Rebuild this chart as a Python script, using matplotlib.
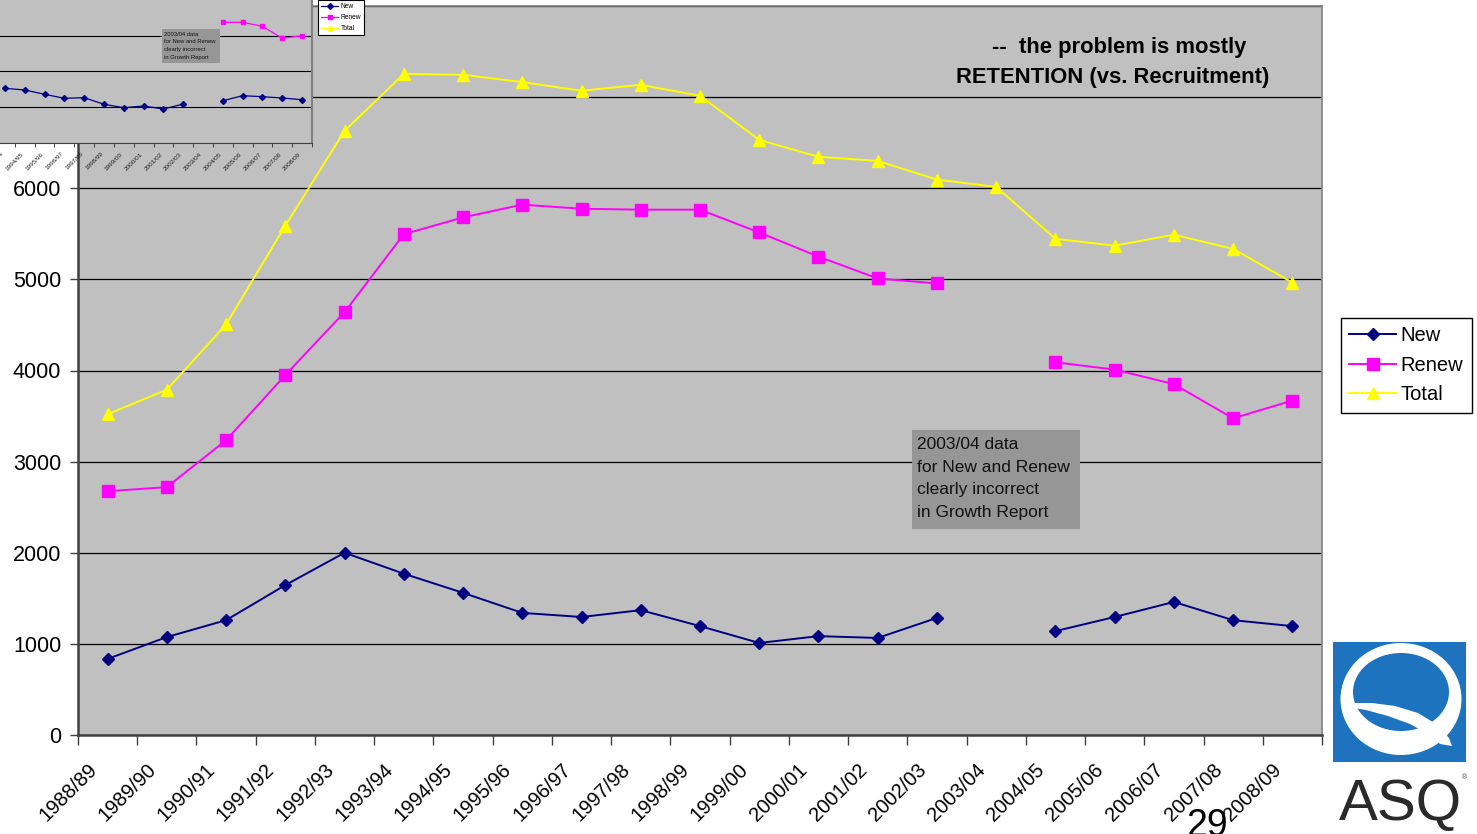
import numpy as np
import matplotlib
matplotlib.use('Agg')
import matplotlib.pyplot as plt
from matplotlib.patches import Rectangle, Ellipse, Polygon
from matplotlib.lines import Line2D

plt.rcParams['font.family'] = ['Liberation Sans', 'DejaVu Sans']

# ---------------- data ----------------
years = ['1988/89', '1989/90', '1990/91', '1991/92', '1992/93', '1993/94', '1994/95',
         '1995/96', '1996/97', '1997/98', '1998/99', '1999/00', '2000/01', '2001/02',
         '2002/03', '2003/04', '2004/05', '2005/06', '2006/07', '2007/08', '2008/09']
new = [835, 1075, 1260, 1645, 2000, 1770, 1560, 1340, 1295, 1370, 1195, 1010, 1085,
       1065, 1285, np.nan, 1140, 1295, 1460, 1260, 1195]
renew = [2675, 2720, 3235, 3950, 4640, 5495, 5680, 5820, 5775, 5765, 5765, 5515, 5250,
         5010, 4955, np.nan, 4090, 4010, 3850, 3475, 3670]
total = [3520, 3790, 4505, 5590, 6630, 7255, 7245, 7165, 7070, 7135, 7015, 6530, 6345,
         6300, 6095, 6015, 5445, 5370, 5490, 5335, 4965]
y_ticks = [0, 1000, 2000, 3000, 4000, 5000, 6000, 7000, 8000]

# small pasted thumbnail chart (top-left)
inset_years = years[5:]
inset_new = [1530, 1483, 1362, 1250, 1267, 1083, 988, 1035, 951, 1091, np.nan,
             1183, 1323, 1295, 1259, 1211]
inset_renew = [np.nan] * 11 + [3376, 3376, 3264, 2929, 3001]

note_lines = ['2003/04 data', 'for New and Renew', 'clearly incorrect', 'in Growth Report']
headline = ['--  the problem is mostly', 'RETENTION (vs. Recruitment)']

NAVY, MAG, YEL = '#000080', '#FF00FF', '#FFFF00'
GRAY = '#C0C0C0'

W, H = 1477, 834
fig = plt.figure(figsize=(W / 100, H / 100), dpi=100)
fig.patch.set_facecolor('white')


def fx(px):
    return px / W


def fy(py):
    return 1 - py / H


# ---------------- main chart ----------------
ax = fig.add_axes([fx(78), fy(735), fx(1322) - fx(78), fy(6) - fy(735)])
ax.set_facecolor(GRAY)
x = np.arange(len(years))
l_new, = ax.plot(x, new, color=NAVY, lw=1.4, marker='D', ms=6.6, mec=NAVY, mfc=NAVY,
                 zorder=5, label='New')
l_ren, = ax.plot(x, renew, color=MAG, lw=1.4, marker='s', ms=8.4, mec=MAG, mfc=MAG,
                 zorder=4, label='Renew')
l_tot, = ax.plot(x, total, color=YEL, lw=1.4, marker='^', ms=9.3, mec=YEL, mfc=YEL,
                 zorder=3, label='Total')
ax.set_xlim(-0.5, len(years) - 0.5)
ax.set_ylim(0, 8000)
ax.set_yticks(y_ticks)
ax.yaxis.grid(True, color='black', lw=0.9)
ax.set_axisbelow(True)
# category labels (label anchor slightly left of the category centre, as in Excel)
ax.set_xticks(x - 0.12)
ax.set_xticklabels(years, rotation=45, ha='right', fontsize=14.5)
ax.set_xticks(np.arange(-0.5, len(years), 1), minor=True)
ax.tick_params(axis='x', which='major', length=0, pad=18)
ax.tick_params(axis='x', which='minor', length=7, width=1, color='#404040')
ax.tick_params(axis='y', length=6, width=1, color='#404040', labelsize=15.5, pad=6)
for s in ['left', 'bottom']:
    ax.spines[s].set_color('#404040')
    ax.spines[s].set_linewidth(1.8)
for s in ['top', 'right']:
    ax.spines[s].set_color('#808080')
    ax.spines[s].set_linewidth(1.2)

leg = ax.legend(handles=[l_new, l_ren, l_tot], loc='upper left',
                bbox_to_anchor=(fx(1341), fy(318)), bbox_transform=fig.transFigure,
                frameon=True, fancybox=False, edgecolor='black', framealpha=1,
                fontsize=14.5, handlelength=2.3, handletextpad=0.25, labelspacing=0.52,
                borderpad=0.42, borderaxespad=0)
leg.get_frame().set_linewidth(1.0)

# ---------------- thumbnail inset ----------------
axi = fig.add_axes([0, fy(143), fx(312), fy(0) - fy(143)])
axi.set_facecolor(GRAY)
xi = np.arange(len(inset_years))
i_new, = axi.plot(xi, inset_new, color=NAVY, lw=0.9, marker='D', ms=3, mec=NAVY, label='New')
i_ren, = axi.plot(xi, inset_renew, color=MAG, lw=0.9, marker='s', ms=3.5, mec=MAG, label='Renew')
i_tot = Line2D([], [], color=YEL, lw=0.9, marker='^', ms=3.5, mec=YEL, label='Total')
axi.set_xlim(-0.25, len(inset_years) - 0.5)
axi.set_ylim(0, 4000)
axi.set_yticks([1000, 2000, 3000])
axi.yaxis.grid(True, color='black', lw=0.8)
axi.set_axisbelow(True)
axi.tick_params(axis='y', length=0, labelleft=False)
axi.set_xticks(xi)
axi.set_xticklabels(inset_years, rotation=45, ha='right', fontsize=4.6, color='#222222')
axi.set_xticks(np.arange(0.5, len(inset_years), 1), minor=True)
axi.tick_params(axis='x', which='major', length=0, pad=6)
axi.tick_params(axis='x', which='minor', length=3, width=0.7, color='#404040')
axi.spines['left'].set_visible(False)
axi.spines['top'].set_visible(False)
axi.spines['right'].set_color('#808080')
axi.spines['right'].set_linewidth(1.5)
axi.spines['bottom'].set_color('#404040')
axi.spines['bottom'].set_linewidth(0.8)
leg2 = axi.legend(handles=[i_new, i_ren, i_tot], loc='upper left',
                  bbox_to_anchor=(fx(318), fy(0)), bbox_transform=fig.transFigure,
                  frameon=True, fancybox=False, edgecolor='black', framealpha=1,
                  fontsize=4.8, handlelength=2.6, handletextpad=0.3, labelspacing=0.6,
                  borderpad=0.45, borderaxespad=0)
leg2.get_frame().set_linewidth(0.8)

# ---------------- overlay (annotations, logo, page number) ----------------
ov = fig.add_axes([0, 0, 1, 1])
ov.set_xlim(0, W)
ov.set_ylim(H, 0)
ov.axis('off')
ov.patch.set_alpha(0)

# note box in main chart
ov.add_patch(Rectangle((912, 430), 168, 99, fc='#969696', ec='none'))
for i, t in enumerate(note_lines):
    ov.text(917, 449 + 22.5 * i, t, fontsize=12.5, ha='left', va='baseline', color='#111111')

# note box in thumbnail
ov.add_patch(Rectangle((162, 29), 58, 34, fc='#969696', ec='none'))
for i, t in enumerate(note_lines):
    ov.text(164, 35.5 + 7.8 * i, t, fontsize=4.2, ha='left', va='baseline', color='#111111')

# headline
ov.text(1119, 53, headline[0], fontsize=15.8, fontweight='bold', ha='center', va='baseline')
ov.text(1113, 83, headline[1], fontsize=15.8, fontweight='bold', ha='center', va='baseline')

# ASQ logo
BLUE = '#1E73BE'
ov.add_patch(Rectangle((1333, 642), 133, 120, fc=BLUE, ec='none'))
ov.add_patch(Ellipse((1401, 699), 121, 112, fc='white', ec='none'))
ov.add_patch(Ellipse((1401, 692), 96, 78, fc=BLUE, ec='none'))
tail = [(1354, 703), (1372, 703), (1395, 706), (1418, 713), (1436, 724), (1449, 738),
        (1452, 746), (1440, 744), (1428, 734), (1410, 724), (1388, 716), (1366, 710),
        (1354, 708)]
ov.add_patch(Polygon(tail, closed=True, fc='white', ec='none'))
ov.text(1400, 820, 'ASQ', fontsize=42, ha='center', va='baseline', color='#2a2a2a',
        fontweight='light')
ov.text(1464, 779, '®', fontsize=5, ha='center', va='baseline', color='#444444')

# page number
ov.text(1207, 836, '29', fontsize=27, ha='center', va='baseline', color='black')

fig.savefig('out.png', dpi=100, facecolor='white')
